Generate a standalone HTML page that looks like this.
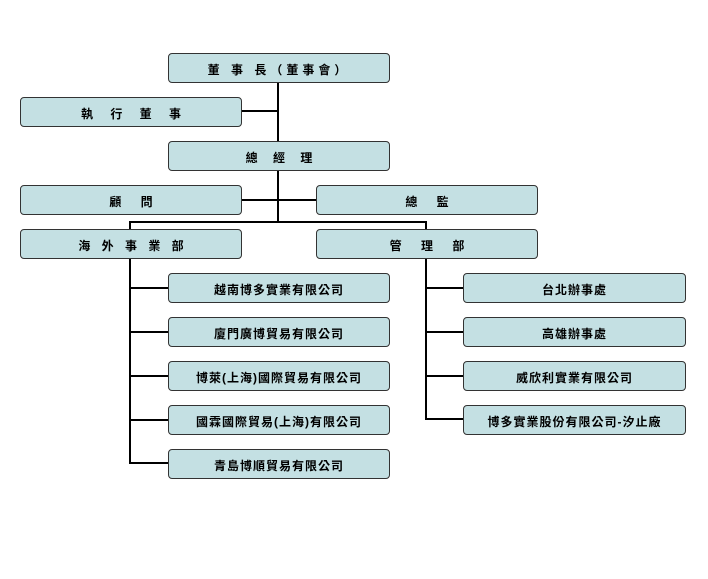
<!DOCTYPE html>
<html><head><meta charset="utf-8"><style>
body{margin:0;width:708px;height:579px;background:#fff;position:relative;overflow:hidden;font-family:"Liberation Sans","Noto Sans CJK TC",sans-serif}
.b{position:absolute;box-sizing:border-box;background:#c4e0e3;border:1.5px solid #333;border-radius:4px;display:flex;align-items:center;justify-content:center;font-size:12px;font-weight:bold;color:#000;padding-top:3px}
.l{position:absolute;background:#000}
</style></head><body>
<div class="l" style="left:277px;top:82px;width:2px;height:140px"></div>
<div class="l" style="left:242px;top:110px;width:36px;height:2px"></div>
<div class="l" style="left:242px;top:199px;width:74px;height:2px"></div>
<div class="l" style="left:129px;top:221px;width:298px;height:2px"></div>
<div class="l" style="left:129px;top:221px;width:2px;height:8px"></div>
<div class="l" style="left:425px;top:221px;width:2px;height:8px"></div>
<div class="l" style="left:129px;top:258px;width:2px;height:206px"></div>
<div class="l" style="left:425px;top:258px;width:2px;height:162px"></div>
<div class="l" style="left:129px;top:287px;width:39px;height:2px"></div>
<div class="l" style="left:129px;top:331px;width:39px;height:2px"></div>
<div class="l" style="left:129px;top:375px;width:39px;height:2px"></div>
<div class="l" style="left:129px;top:419px;width:39px;height:2px"></div>
<div class="l" style="left:129px;top:462px;width:39px;height:2px"></div>
<div class="l" style="left:425px;top:287px;width:38px;height:2px"></div>
<div class="l" style="left:425px;top:331px;width:38px;height:2px"></div>
<div class="l" style="left:425px;top:375px;width:38px;height:2px"></div>
<div class="l" style="left:425px;top:418px;width:38px;height:2px"></div>

<div class="b" style="left:168px;top:53px;width:222px;height:30px;letter-spacing:4px">董 事 長（董事會）</div>
<div class="b" style="left:20px;top:97px;width:222px;height:30px;word-spacing:14px">執 行 董 事</div>
<div class="b" style="left:168px;top:141px;width:222px;height:30px;word-spacing:12px">總 經 理</div>
<div class="b" style="left:20px;top:185px;width:222px;height:30px;word-spacing:16px">顧 問</div>
<div class="b" style="left:316px;top:185px;width:222px;height:30px;word-spacing:16px">總 監</div>
<div class="b" style="left:20px;top:229px;width:222px;height:30px;word-spacing:8px">海 外 事 業 部</div>
<div class="b" style="left:316px;top:229px;width:222px;height:30px;word-spacing:16px">管 理 部</div>

<div class="b" style="left:168px;top:273px;width:222px;height:30px;letter-spacing:1px">越南博多實業有限公司</div>
<div class="b" style="left:168px;top:317px;width:222px;height:30px;letter-spacing:1px">廈門廣博貿易有限公司</div>
<div class="b" style="left:168px;top:361px;width:222px;height:30px;letter-spacing:1px">博萊(上海)國際貿易有限公司</div>
<div class="b" style="left:168px;top:405px;width:222px;height:30px;letter-spacing:1px">國霖國際貿易(上海)有限公司</div>
<div class="b" style="left:168px;top:449px;width:222px;height:30px;letter-spacing:1px">青島博順貿易有限公司</div>

<div class="b" style="left:463px;top:273px;width:223px;height:30px;letter-spacing:1px">台北辦事處</div>
<div class="b" style="left:463px;top:317px;width:223px;height:30px;letter-spacing:1px">高雄辦事處</div>
<div class="b" style="left:463px;top:361px;width:223px;height:30px;letter-spacing:1px">威欣利實業有限公司</div>
<div class="b" style="left:463px;top:405px;width:223px;height:30px;letter-spacing:1px">博多實業股份有限公司-汐止廠</div>
</body></html>
